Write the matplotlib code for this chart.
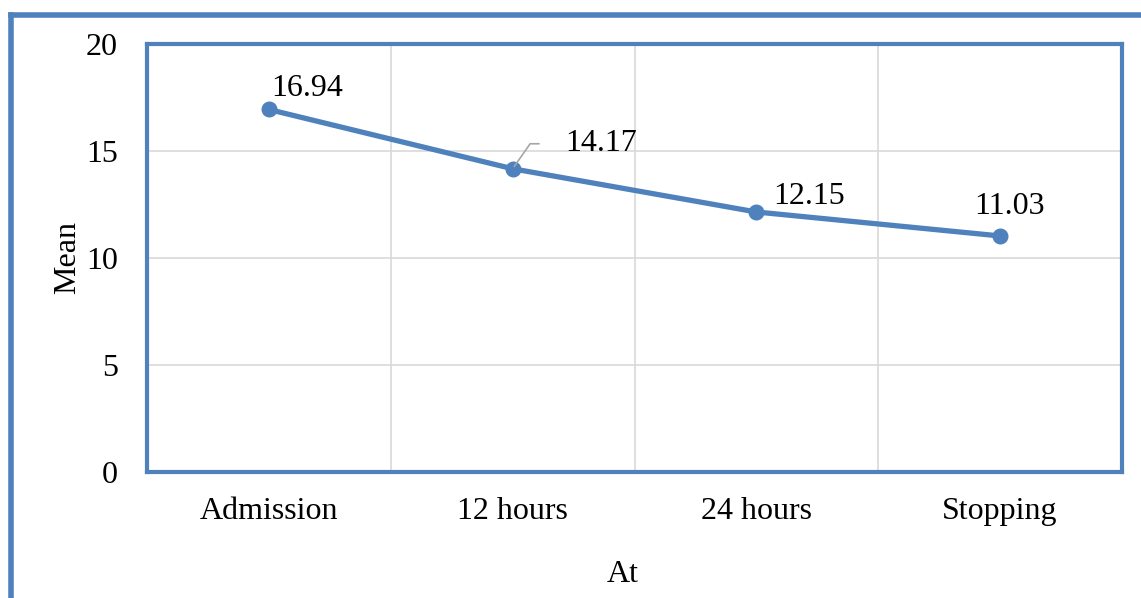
import matplotlib.pyplot as plt
from matplotlib.lines import Line2D

plt.rcParams["font.family"] = ["Liberation Serif", "DejaVu Serif"]

stages = ["Admission", "12 hours", "24 hours", "Stopping"]
means = [16.94, 14.17, 12.15, 11.03]
y_ticks = [0, 5, 10, 15, 20]

blue = "#4F81BD"
grid_grey = "#D9D9D9"
fs = 23

W, H = 1141, 598
fig = plt.figure(figsize=(W / 100, H / 100), dpi=100)

# outer chart frame (runs off the right and bottom edges)
frame_kw = dict(color=blue, linewidth=4, transform=fig.transFigure, solid_capstyle="projecting")
fig.add_artist(Line2D([10.5 / W, 10.5 / W], [1 - 14.5 / H, -0.05], **frame_kw))
fig.add_artist(Line2D([10.5 / W, 1.05], [1 - 14.5 / H, 1 - 14.5 / H], **frame_kw))

ax = fig.add_axes([147 / W, 1 - 472 / H, 975 / W, 428 / H])
x = [i + 0.5 for i in range(len(stages))]

ax.set_xlim(0, len(stages))
ax.set_ylim(0, 20)
ax.set_yticks(y_ticks)
ax.set_xticks(x)
ax.set_xticklabels(stages)
ax.tick_params(length=0, labelsize=fs)
ax.tick_params(axis="x", pad=18)
ax.tick_params(axis="y", pad=21)

for v in y_ticks[1:-1]:
    ax.axhline(v, color=grid_grey, linewidth=1.2, zorder=0)
for b in range(1, len(stages)):
    ax.axvline(b, color=grid_grey, linewidth=1.2, zorder=0)

for side in ax.spines.values():
    side.set_color(blue)
    side.set_linewidth(3)

ax.plot(x, means, color=blue, linewidth=3.8, marker="o", markersize=10.5, zorder=3)

# value labels
ax.annotate(f"{means[0]:.2f}", (x[0], means[0]), xytext=(2, 15), textcoords="offset points",
            fontsize=fs, ha="left", va="center")
ax.annotate(f"{means[1]:.2f}", (x[1], means[1]), xytext=(38, 18), textcoords="offset points",
            fontsize=fs, ha="left", va="center")
ax.annotate("", (x[1], means[1]), xytext=(21, 18), textcoords="offset points",
            arrowprops=dict(arrowstyle="-", color="#A6A6A6", linewidth=1.2,
                            connectionstyle="angle,angleA=0,angleB=55,rad=0"))
ax.annotate(f"{means[2]:.2f}", (x[2], means[2]), xytext=(12, 11), textcoords="offset points",
            fontsize=fs, ha="left", va="center")
ax.annotate(f"{means[3]:.2f}", (x[3], means[3]), xytext=(7, 21), textcoords="offset points",
            fontsize=fs, ha="center", va="center")

ax.set_ylabel("Mean", fontsize=fs)
ax.yaxis.set_label_coords((82 - 147) / 975, 0.5)
ax.set_xlabel("At", fontsize=fs)
ax.xaxis.set_label_coords((623 - 147) / 975, -(560 - 472) / 428)

fig.savefig("out.png", dpi=100)
